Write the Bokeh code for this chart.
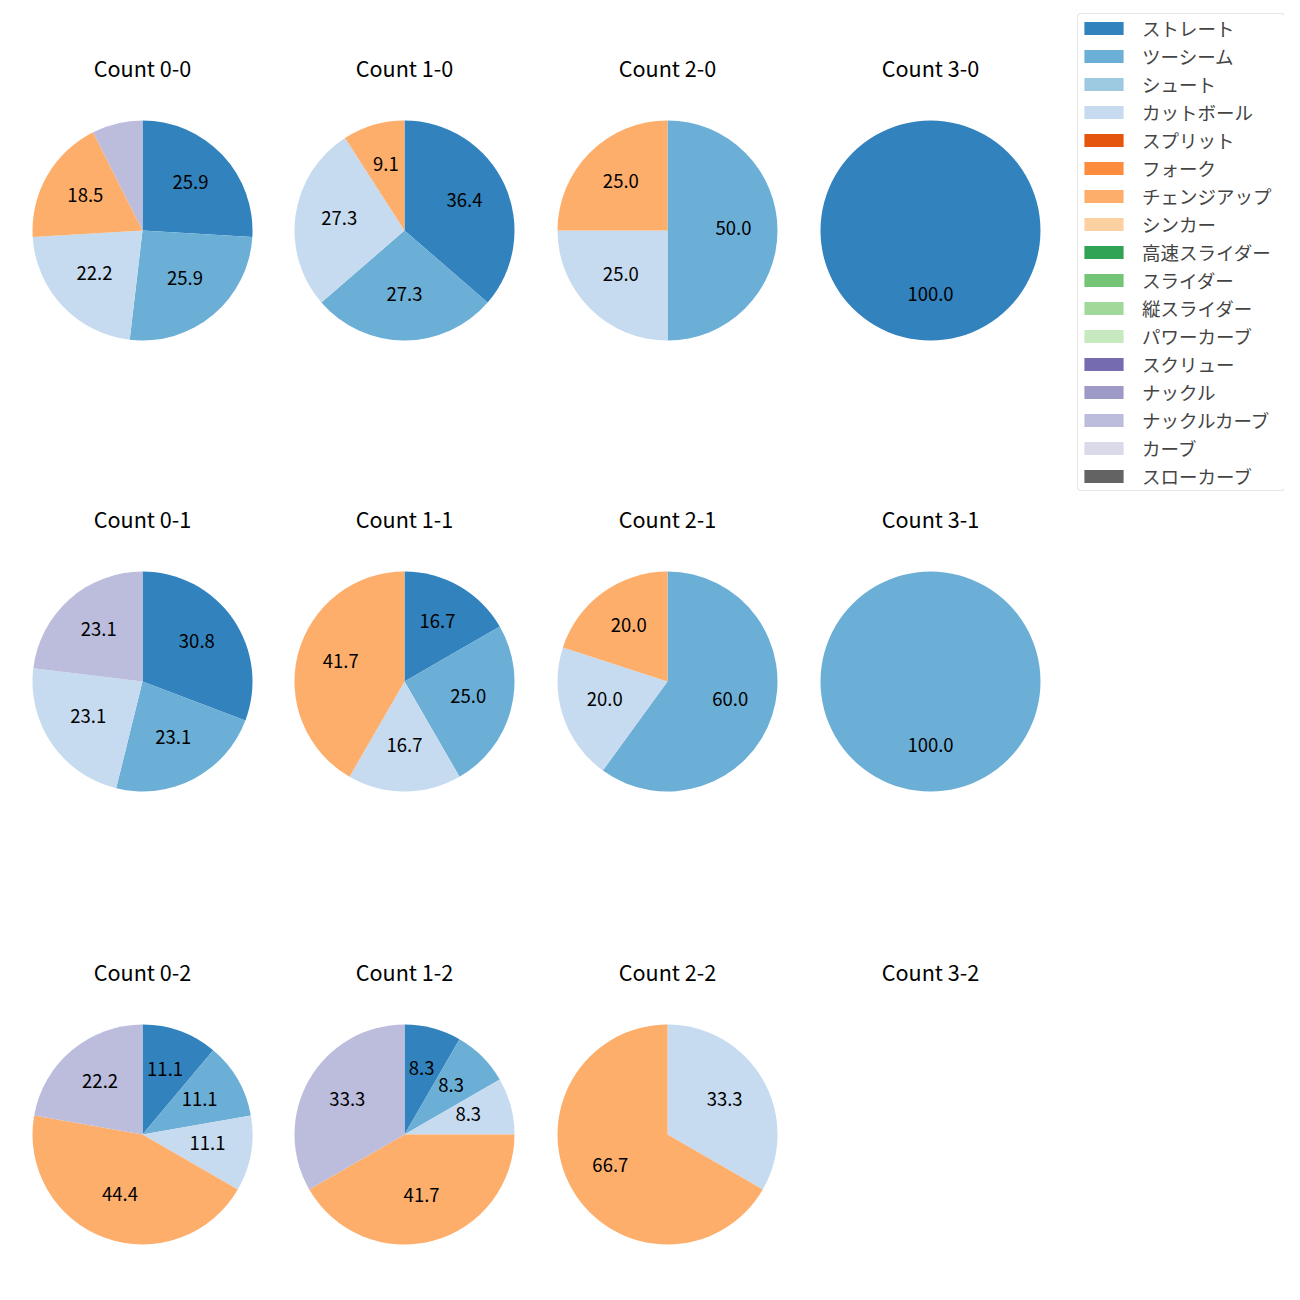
import math
from bokeh.plotting import figure
from bokeh.models import Range1d, Legend, LegendItem, ColumnDataSource
from bokeh.core.properties import value
from bokeh.embed import file_html
from bokeh.resources import INLINE

pitch_types = ["ストレート", "ツーシーム", "シュート", "カットボール", "スプリット", "フォーク",
               "チェンジアップ", "シンカー", "高速スライダー", "スライダー", "縦スライダー",
               "パワーカーブ", "スクリュー", "ナックル", "ナックルカーブ", "カーブ", "スローカーブ"]
colors = ["#3182bd", "#6baed6", "#9ecae1", "#c6dbef", "#e6550d", "#fd8d3c", "#fdae6b", "#fdd0a2",
          "#31a354", "#74c476", "#a1d99b", "#c7e9c0", "#756bb1", "#9e9ac8", "#bcbddc", "#dadaeb",
          "#636363"]

count_titles = ["Count 0-0", "Count 1-0", "Count 2-0", "Count 3-0",
                "Count 0-1", "Count 1-1", "Count 2-1", "Count 3-1",
                "Count 0-2", "Count 1-2", "Count 2-2", "Count 3-2"]
#               St Tw Sh Ct Sp Fo Ch Si HS Sl VS PC Sc Kn KC Cu SC
counts_0_0 = [7, 7, 0, 6, 0, 0, 5, 0, 0, 0, 0, 0, 0, 0, 2, 0, 0]
counts_1_0 = [4, 3, 0, 3, 0, 0, 1, 0, 0, 0, 0, 0, 0, 0, 0, 0, 0]
counts_2_0 = [0, 2, 0, 1, 0, 0, 1, 0, 0, 0, 0, 0, 0, 0, 0, 0, 0]
counts_3_0 = [1, 0, 0, 0, 0, 0, 0, 0, 0, 0, 0, 0, 0, 0, 0, 0, 0]
counts_0_1 = [4, 3, 0, 3, 0, 0, 0, 0, 0, 0, 0, 0, 0, 0, 3, 0, 0]
counts_1_1 = [2, 3, 0, 2, 0, 0, 5, 0, 0, 0, 0, 0, 0, 0, 0, 0, 0]
counts_2_1 = [0, 3, 0, 1, 0, 0, 1, 0, 0, 0, 0, 0, 0, 0, 0, 0, 0]
counts_3_1 = [0, 1, 0, 0, 0, 0, 0, 0, 0, 0, 0, 0, 0, 0, 0, 0, 0]
counts_0_2 = [1, 1, 0, 1, 0, 0, 4, 0, 0, 0, 0, 0, 0, 0, 2, 0, 0]
counts_1_2 = [1, 1, 0, 1, 0, 0, 5, 0, 0, 0, 0, 0, 0, 0, 4, 0, 0]
counts_2_2 = [0, 0, 0, 1, 0, 0, 2, 0, 0, 0, 0, 0, 0, 0, 0, 0, 0]
counts_3_2 = [0, 0, 0, 0, 0, 0, 0, 0, 0, 0, 0, 0, 0, 0, 0, 0, 0]
all_counts = [counts_0_0, counts_1_0, counts_2_0, counts_3_0,
              counts_0_1, counts_1_1, counts_2_1, counts_3_1,
              counts_0_2, counts_1_2, counts_2_2, counts_3_2]

# layout (page pixel coordinates, y measured from top)
col_x = [142, 404, 667, 930]
row_y = [230, 681, 1134]
title_dy = 163
label_dy = 3
radius = 110
H = 1300
FONT = value("Noto Sans CJK JP")

p = figure(width=1284, height=1284, x_range=Range1d(0, 1284), y_range=Range1d(16, 1300),
           output_backend="svg", toolbar_location=None, min_border=0,
           x_axis_location=None, y_axis_location=None)
p.grid.visible = False
p.outline_line_color = None

wedge_data = {i: dict(x=[], y=[], r=[], s=[], e=[]) for i in range(len(pitch_types))}
lab = dict(x=[], y=[], t=[])
tit = dict(x=[], y=[], t=[])
for k, cnts in enumerate(all_counts):
    cx = col_x[k % 4]
    cy = H - row_y[k // 4]
    tit["x"].append(cx)
    tit["y"].append(cy + title_dy)
    tit["t"].append(count_titles[k])
    total = sum(cnts)
    if total == 0:
        continue
    cum = 0.0
    for i, c in enumerate(cnts):
        frac = c / total
        a0 = math.pi / 2 - 2 * math.pi * cum
        span = min(2 * math.pi * frac, 2 * math.pi - 1e-4)
        a1 = a0 - span
        wedge_data[i]["x"].append(cx)
        wedge_data[i]["y"].append(cy)
        wedge_data[i]["r"].append(radius if c > 0 else 0)
        wedge_data[i]["s"].append(a0)
        wedge_data[i]["e"].append(a1 if c > 0 else a0)
        pct = 100 * frac
        if pct >= 8:
            mid = a0 - math.pi * frac
            lab["x"].append(cx + 0.6 * radius * math.cos(mid))
            lab["y"].append(cy + 0.6 * radius * math.sin(mid) + label_dy)
            lab["t"].append("%.1f" % pct)
        cum += frac

items = []
for i, name in enumerate(pitch_types):
    src = ColumnDataSource(wedge_data[i])
    r = p.wedge(x="x", y="y", radius="r", start_angle="s", end_angle="e", direction="clock",
                source=src, fill_color=colors[i], line_color=None)
    items.append(LegendItem(label=name, renderers=[r]))

p.text(x="x", y="y", text="t", source=ColumnDataSource(lab), text_align="center",
       text_baseline="middle", text_font=FONT, text_font_size="18.5px", text_color="#000000")
p.text(x="x", y="y", text="t", source=ColumnDataSource(tit), text_align="center",
       text_baseline="middle", text_font=FONT, text_font_size="21.6px", text_color="#000000")

legend = Legend(items=items, location=(1077, 1284 - 491))
legend.label_text_font = "Noto Sans CJK JP"
legend.label_text_font_size = "18.5px"
legend.glyph_width = 49
legend.glyph_height = 16
legend.label_standoff = 14
legend.label_height = 20
legend.label_width = 141
legend.spacing = 2
legend.padding = 1
legend.margin = 0
legend.border_line_color = "#cccccc"
legend.border_line_width = 1
legend.background_fill_color = "white"
legend.background_fill_alpha = 1
if "border_radius" in Legend.properties():
    legend.border_radius = 4
p.add_layout(legend)

open("out.html", "w").write(file_html(p, INLINE))
